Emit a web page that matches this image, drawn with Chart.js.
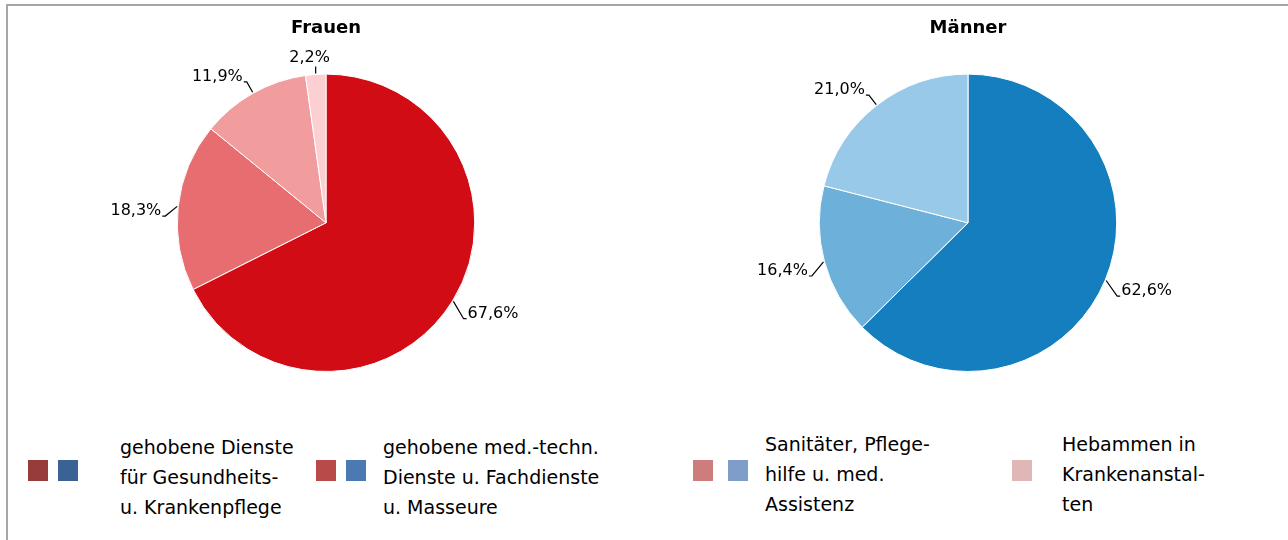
<!DOCTYPE html>
<html>
<head>
<meta charset="utf-8">
<script src="https://cdn.jsdelivr.net/npm/chart.js@4.4.1/dist/chart.umd.min.js"></script>
<style>
  body { margin: 0; background: #fff; }
  #wrap { position: relative; width: 1288px; height: 540px; overflow: hidden;
          font-family: "DejaVu Sans", sans-serif; color: #000; }
  #frame { position: absolute; left: 6px; top: 4px; width: 1300px; height: 560px;
           border-left: 2px solid #a6a6a6; border-top: 2px solid #a6a6a6; }
  .pie { position: absolute; top: 0; width: 640px; height: 400px; }
  #legend { position: absolute; left: 0; top: 430px; width: 1288px; height: 100px; }
  .sw { position: absolute; width: 20px; height: 21px; }
  .txt { position: absolute; font-size: 19px; line-height: 30px; white-space: nowrap; }
</style>
</head>
<body>
<div id="wrap">
  <div id="frame"></div>
  <div class="pie" style="left:6px"><canvas id="frauen"></canvas></div>
  <div class="pie" style="left:648px"><canvas id="maenner"></canvas></div>
  <div id="legend"></div>
</div>
<script>
// Anteile in Prozent
const categories = [
  ["gehobene Dienste", "für Gesundheits-", "u. Krankenpflege"],
  ["gehobene med.-techn.", "Dienste u. Fachdienste", "u. Masseure"],
  ["Sanitäter, Pflege-", "hilfe u. med.", "Assistenz"],
  ["Hebammen in", "Krankenanstal-", "ten"]
];
const frauenWerte = [67.6, 18.3, 11.9, 2.2];
const maennerWerte = [62.6, 16.4, 21.0];

const frauenFarben = ["#d20c14", "#e76d70", "#f19c9d", "#fcd0d3"];
const maennerFarben = ["#157ebf", "#6db0da", "#99c9e9"];

// Legendenfarben (weichen im Original von den Kreisfarben ab)
const legendRot = ["#983b3b", "#b84b4a", "#cd7d7c", "#e0b6b6"];
const legendBlau = ["#3a6295", "#4b7ab3", "#7f9dc9", null];

// Beschriftung mit Führungslinie ausserhalb des Kreises
const outLabels = {
  id: 'outLabels',
  afterDatasetsDraw(chart) {
    const ctx = chart.ctx;
    const meta = chart.getDatasetMeta(0);
    const data = chart.data.datasets[0].data;
    ctx.save();
    ctx.font = '16px "DejaVu Sans", sans-serif';
    ctx.fillStyle = '#000';
    ctx.strokeStyle = '#000';
    ctx.lineWidth = 1.2;
    meta.data.forEach(function (arc, i) {
      const p = arc.getProps(['x', 'y', 'startAngle', 'endAngle', 'outerRadius'], true);
      const mid = (p.startAngle + p.endAngle) / 2;
      const c = Math.cos(mid), s = Math.sin(mid);
      const x1 = p.x + c * (p.outerRadius + 1), y1 = p.y + s * (p.outerRadius + 1);
      const x2 = p.x + c * (p.outerRadius + 13);
      const y2 = p.y + s * (p.outerRadius + 13) + (s > -0.5 ? 11 : 0);
      const txt = data[i].toFixed(1).replace('.', ',') + '%';
      ctx.beginPath();
      ctx.moveTo(x1, y1);
      if (Math.abs(c) < 0.15) {
        ctx.lineTo(x1, p.y + s * (p.outerRadius + 8));
        ctx.stroke();
        ctx.textAlign = 'center';
        ctx.textBaseline = 'bottom';
        ctx.fillText(txt, x1 - 6, p.y + s * (p.outerRadius + 8) - 1);
      } else {
        const dir = c > 0 ? 1 : -1;
        ctx.lineTo(x2, y2);
        ctx.lineTo(x2 + dir * 3, y2);
        ctx.stroke();
        ctx.textAlign = dir > 0 ? 'left' : 'right';
        ctx.textBaseline = 'middle';
        ctx.fillText(txt, x2 + dir * 4, y2 - 5);
      }
    });
    ctx.restore();
  }
};

function makePie(id, titel, werte, farben) {
  return new Chart(document.getElementById(id), {
    type: 'pie',
    data: {
      labels: categories.map(function (c) { return c.join(' '); }).slice(0, werte.length),
      datasets: [{
        data: werte,
        backgroundColor: farben,
        borderColor: '#ffffff',
        borderWidth: 1
      }]
    },
    options: {
      responsive: true,
      maintainAspectRatio: false,
      animation: false,
      layout: { padding: { top: 0, bottom: 28, left: 0, right: 0 } },
      plugins: {
        legend: { display: false },
        tooltip: { enabled: false },
        title: {
          display: true,
          text: titel,
          color: '#000',
          font: { family: '"DejaVu Sans", sans-serif', size: 18, weight: 'bold' },
          padding: { top: 18, bottom: 34 }
        }
      }
    },
    plugins: [outLabels]
  });
}

makePie('frauen', 'Frauen', frauenWerte, frauenFarben);
makePie('maenner', 'Männer', maennerWerte, maennerFarben);

// Legende
const legendPos = [
  { sw: [28, 58], txt: 120, top: 0 },
  { sw: [316, 346], txt: 383, top: 0 },
  { sw: [693, 728], txt: 765, top: -3 },
  { sw: [1012], txt: 1062, top: -3 }
];
const leg = document.getElementById('legend');
categories.forEach(function (lines, i) {
  const pos = legendPos[i];
  const farben = [legendRot[i], legendBlau[i]].filter(Boolean);
  farben.forEach(function (f, k) {
    const d = document.createElement('div');
    d.className = 'sw';
    d.style.left = pos.sw[k] + 'px';
    d.style.top = '30px';
    d.style.background = f;
    leg.appendChild(d);
  });
  const t = document.createElement('div');
  t.className = 'txt';
  t.style.left = pos.txt + 'px';
  t.style.top = (2 + pos.top) + 'px';
  t.innerHTML = lines.join('<br>');
  leg.appendChild(t);
});
</script>
</body>
</html>
